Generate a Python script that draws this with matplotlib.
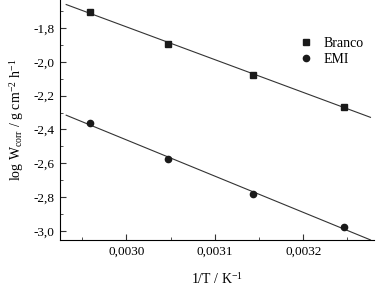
import matplotlib.pyplot as plt
import matplotlib.ticker as mticker
import numpy as np

plt.rcParams['font.family'] = ['Liberation Serif', 'DejaVu Serif']
plt.rcParams['mathtext.fontset'] = 'stix'

inv_t = [0.002959, 0.003047, 0.0031435, 0.0032463]
branco = [-1.706, -1.894, -2.076, -2.265]
emi = [-2.359, -2.576, -2.782, -2.976]


def comma(fmt):
    return mticker.FuncFormatter(lambda v, p: (fmt % v).replace('.', ','))


fig = plt.figure(figsize=(3.76, 2.90), dpi=100)
ax = fig.add_axes([60 / 376, 50 / 290, 314 / 376, 240 / 290])

x_fit = np.array([0.002932, 0.003276])
for y, m in [(branco, 's'), (emi, 'o')]:
    k, b = np.polyfit(inv_t, y, 1)
    ax.plot(x_fit, k * x_fit + b, color='#333333', lw=0.8)
ax.plot(inv_t, branco, 's', color='#1a1a1a', ms=4.5, label='Branco')
ax.plot(inv_t, emi, 'o', color='#1a1a1a', ms=4.5, label='EMI')

ax.set_xlim(0.002925, 0.00328)
ax.set_ylim(-3.053, -1.635)
ax.xaxis.set_major_locator(mticker.MultipleLocator(0.0001))
ax.xaxis.set_minor_locator(mticker.MultipleLocator(0.00005))
ax.yaxis.set_major_locator(mticker.MultipleLocator(0.2))
ax.yaxis.set_minor_locator(mticker.MultipleLocator(0.1))
ax.xaxis.set_major_formatter(comma('%.4f'))
ax.yaxis.set_major_formatter(comma('%.1f'))
ax.tick_params(which='both', direction='in', labelsize=9.5, color='#333333')
ax.tick_params(which='major', length=4, pad=4)
ax.tick_params(which='minor', length=2.5)
for s in ['top', 'right']:
    ax.spines[s].set_visible(False)
for s in ['left', 'bottom']:
    ax.spines[s].set_linewidth(0.8)

ax.set_xlabel('1/T / K$^{\\mathregular{-1}}$', fontsize=10, labelpad=10)
ax.set_ylabel('log W$_{\\mathregular{corr}}$ / g cm$^{\\mathregular{-2}}$ h$^{\\mathregular{-1}}$',
              fontsize=10, labelpad=5)

ax.legend(loc='upper left', bbox_to_anchor=(0.71, 0.9), frameon=False,
          fontsize=10, handletextpad=0.5, labelspacing=0.25, handlelength=1.5)

fig.savefig('out.png', dpi=100)
